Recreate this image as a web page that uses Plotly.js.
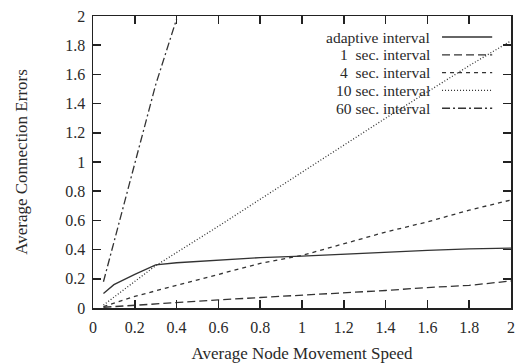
<!DOCTYPE html>
<html><head><meta charset="utf-8">
<script src="https://cdn.plot.ly/plotly-3.0.1.min.js"></script>
<style>html,body{margin:0;padding:0;background:#fff}</style>
</head><body><div id="chart" style="width:518px;height:363px"></div>
<script>
const speedAdaptive = [0.05, 0.1, 0.2, 0.3, 0.4, 0.6, 0.8, 1.0, 1.2, 1.4, 1.6, 1.8, 2.0];
const errAdaptive   = [0.10, 0.16, 0.23, 0.295, 0.31, 0.33, 0.345, 0.355, 0.37, 0.385, 0.395, 0.405, 0.41];
const speed1 = [0.05, 0.1, 0.2, 0.4, 0.6, 0.8, 1.0, 1.2, 1.4, 1.6, 1.8, 2.0];
const err1   = [0.005, 0.01, 0.02, 0.035, 0.055, 0.072, 0.088, 0.10, 0.12, 0.14, 0.155, 0.185];
const speed4 = [0.05, 0.2, 0.4, 0.6, 0.8, 1.0, 1.2, 1.4, 1.6, 1.8, 2.0];
const err4   = [0.01, 0.08, 0.155, 0.23, 0.305, 0.36, 0.44, 0.52, 0.59, 0.67, 0.74];
const speed10 = [0.05, 0.3, 0.6, 1.0, 1.4, 1.8, 2.0];
const err10   = [0.02, 0.29, 0.56, 0.93, 1.30, 1.66, 1.83];
const speed60 = [0.05, 0.1, 0.2, 0.3, 0.4];
const err60   = [0.18, 0.45, 0.97, 1.53, 1.98];
const seriesNames = ["adaptive interval", "1  sec. interval", "4  sec. interval", "10 sec. interval", "60 sec. interval"];
const dashes = ["solid", "8px,4px", "4px,4px", "1px,2px", "8px,3px,2px,3px"];
const xTicks = [0, 0.2, 0.4, 0.6, 0.8, 1, 1.2, 1.4, 1.6, 1.8, 2];
const yTicks = [0, 0.2, 0.4, 0.6, 0.8, 1, 1.2, 1.4, 1.6, 1.8, 2];

const xs = [speedAdaptive, speed1, speed4, speed10, speed60];
const ys = [errAdaptive, err1, err4, err10, err60];
const lineColor = "#333";
const traces = xs.map((x, i) => ({
  x: x, y: ys[i], type: "scatter", mode: "lines", name: seriesNames[i],
  line: {color: lineColor, width: 1.3, dash: dashes[i]}, showlegend: false
}));

const font = {family: "Liberation Serif, Times New Roman, serif", color: "#2a2a2a"};
// manual gnuplot-style legend: text right-aligned, sample on the right
const legTop = 0.928, legStep = 0.061;
const annotations = seriesNames.map((n, i) => ({
  xref: "paper", yref: "paper", x: 0.809, y: legTop - i * legStep,
  xanchor: "right", yanchor: "middle", text: n.replace(/  /g, "&nbsp; "), showarrow: false,
  borderpad: 0,
  font: Object.assign({size: 15.5}, font)
}));
const shapes = dashes.map((d, i) => ({
  type: "line", xref: "paper", yref: "paper",
  x0: 0.835, x1: 0.955, y0: legTop - i * legStep, y1: legTop - i * legStep,
  line: {color: lineColor, width: 1.3, dash: d}
}));

const axisCommon = {
  showline: true, linecolor: "#222", linewidth: 1.5, mirror: "ticks",
  ticks: "inside", ticklen: 8, tickwidth: 1.5, tickcolor: "#222",
  showgrid: false, zeroline: false, range: [0, 2], fixedrange: true,
  tickfont: Object.assign({size: 16}, font)
};
const layout = {
  width: 518, height: 363,
  margin: {l: 93, r: 7, t: 16, b: 55},
  paper_bgcolor: "#fff", plot_bgcolor: "#fff",
  xaxis: Object.assign({}, axisCommon, {tickvals: xTicks, ticktext: xTicks.map(String), ticklabelstandoff: 4,
    title: {text: "Average Node Movement Speed", font: Object.assign({size: 17}, font), standoff: 12}}),
  yaxis: Object.assign({}, axisCommon, {tickvals: yTicks, ticktext: yTicks.map(String), ticklabelstandoff: 3,
    title: {text: "Average Connection Errors", font: Object.assign({size: 17}, font), standoff: 33}}),
  annotations: annotations, shapes: shapes
};
Plotly.newPlot("chart", traces, layout, {displayModeBar: false, staticPlot: true});
</script></body></html>
